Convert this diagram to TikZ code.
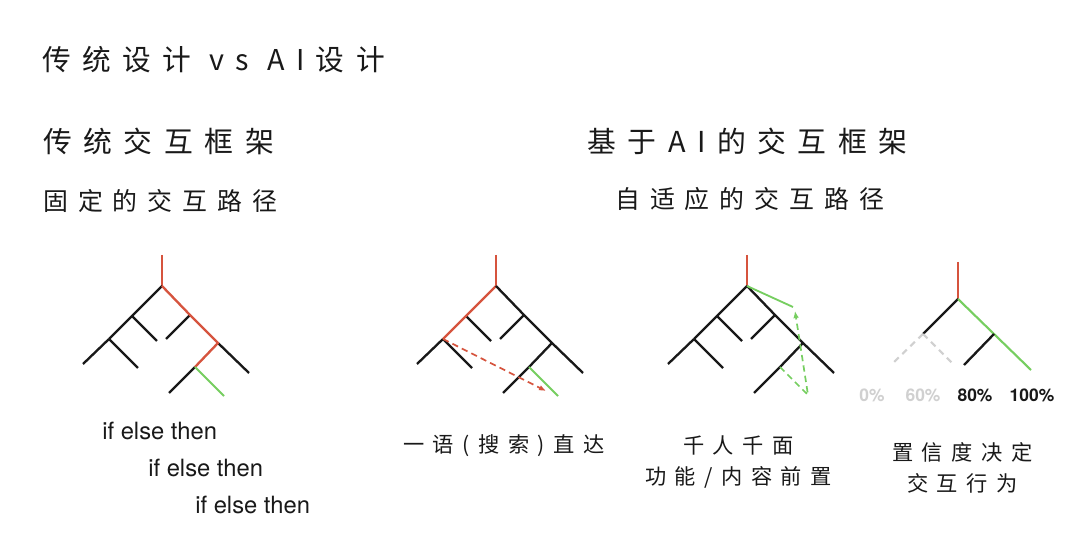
\documentclass[tikz,border=0pt]{standalone}
\usepackage{fontspec}
\newfontfamily\cjk{Noto Sans CJK SC}[LetterSpace=40]
\newfontfamily\lat{TeX Gyre Heros}
\usetikzlibrary{arrows.meta}
\definecolor{pathred}{RGB}{214,84,62}
\definecolor{pathgreen}{RGB}{118,206,96}
\definecolor{fadegray}{RGB}{208,208,208}
\definecolor{inkblack}{RGB}{25,25,25}

\begin{document}
\begin{tikzpicture}[
        x=0.025cm, y=-0.025cm,
        >={Latex[length=5pt,width=4pt]},
        % 树枝样式
        branch/.style={line width=1.65pt, inkblack, line join=round},
        redpath/.style={branch, pathred},
        greenpath/.style={branch, pathgreen, line width=1.5pt},
        jumppath/.style={line width=1.2pt, dash pattern=on 4.5pt off 3pt},
        fadepath/.style={line width=1.5pt, fadegray, dash pattern=on 4.5pt off 3.5pt},
        % 文字样式
        title/.style={anchor=west, inner sep=0pt, inkblack, font=\cjk\fontsize{20.4}{24}\selectfont},
        heading/.style={title, font=\cjk\fontsize{20.5}{24}\selectfont},
        subheading/.style={title, font=\cjk\fontsize{17.7}{21}\selectfont},
        caption/.style={title, font=\cjk\fontsize{15.1}{18}\selectfont},
        code/.style={anchor=west, inner sep=0pt, inkblack, font=\lat\fontsize{16.9}{20}\selectfont},
        pct/.style={inner sep=0pt, font=\lat\bfseries\fontsize{12.4}{15}\selectfont}
    ]

        \fill[white] (0,0) rectangle (1080,543);
        \useasboundingbox (0,0) rectangle (1080,543);

        % ====================
        % 标题 (Titles)
        % ====================
        \node[title] (maintitle) at (42,60) {传统设计 vs AI设计};
        \node[heading] (oldhead) at (43,141) {传统交互框架};
        \node[subheading] (oldsub) at (43,201) {固定的交互路径};
        \node[heading] (aihead) at (587,141) {基于AI的交互框架};
        \node[subheading] (aisub) at (615,199) {自适应的交互路径};

        % ====================
        % 三棵同形的树 (Trees a, b, c)
        % ====================
        \foreach \tr/\dx in {a/0, b/334, c/585}{
            \begin{scope}[shift={(\dx,0)}]
                \coordinate (\tr S) at (162,255);
                \coordinate (\tr R) at (162,286);
                \coordinate (\tr L1) at (132,316);
                \coordinate (\tr L2) at (109,339);
                \coordinate (\tr Le) at (83,364);
                \coordinate (\tr L1e) at (157,341);
                \coordinate (\tr L2e) at (138,368);
                \coordinate (\tr R1) at (190,315);
                \coordinate (\tr R1e) at (166,339);
                \coordinate (\tr R2) at (218,343);
                \coordinate (\tr Re) at (249,373);
                \coordinate (\tr R3) at (195,367);
                \coordinate (\tr R3l) at (169,393);
                \coordinate (\tr R3r) at (224,396);
            \end{scope}
            \draw[branch] (\tr L1) -- (\tr L1e);
            \draw[branch] (\tr L2) -- (\tr L2e);
            \draw[branch] (\tr L2) -- (\tr Le);
            \draw[branch] (\tr R1) -- (\tr R1e);
            \draw[branch] (\tr R2) -- (\tr Re);
            \draw[branch] (\tr R3) -- (\tr R3l);
            \draw[redpath] (\tr S) -- (\tr R);
        }

        % 树 a: 固定路径
        \draw[branch] (aR) -- (aL1) -- (aL2);
        \draw[redpath] (aR) -- (aR1) -- (aR2) -- (aR3);
        \draw[greenpath] (aR3) -- (aR3r);

        % 树 b: 一语直达
        \draw[redpath] (bR) -- (bL1) -- (bL2);
        \draw[branch] (bR) -- (bR1) -- (bR2) -- (bR3);
        \draw[greenpath] (bR3) -- (bR3r);
        \coordinate (bhit) at (546,391);
        \draw[jumppath, pathred, ->] (bL2) -- (bhit);

        % 树 c: 内容前置
        \draw[branch] (cR) -- (cL1) -- (cL2);
        \draw[branch] (cR) -- (cR1) -- (cR2) -- (cR3);
        \coordinate (cbend) at (793,307);
        \coordinate (cfar) at (808,395);
        \coordinate (ctip) at (795,311);
        \draw[greenpath, line width=1.3pt] (cR) -- (cbend);
        \draw[jumppath, pathgreen, ->] (cR3) -- (cfar) -- (ctip);

        % ====================
        % 树 d: 置信度 (Tree d)
        % ====================
        \coordinate (dS) at (958,262);
        \coordinate (dR) at (958,299);
        \coordinate (dL) at (923,334);
        \coordinate (dLe) at (893,363);
        \coordinate (dLr) at (953,364);
        \coordinate (dM) at (994,334);
        \coordinate (dMl) at (964,365);
        \coordinate (dRe) at (1031,370);
        \draw[redpath] (dS) -- (dR);
        \draw[branch] (dR) -- (dL);
        \draw[fadepath] (dL) -- (dLe);
        \draw[fadepath] (dL) -- (dLr);
        \draw[greenpath] (dR) -- (dRe);
        \draw[branch] (dM) -- (dMl);

        \node[pct, fadegray] (p0) at (872,395) {0\%};
        \node[pct, fadegray] (p60) at (923,395) {60\%};
        \node[pct, inkblack] (p80) at (975,395) {80\%};
        \node[pct, inkblack] (p100) at (1032,395) {100\%};

        % ====================
        % 说明文字 (Captions)
        % ====================
        \node[code] (if1) at (102,431) {if else then};
        \node[code] (if2) at (148,468) {if else then};
        \node[code] (if3) at (195,505) {if else then};

        \node[caption] (cap1) at (403,446) {一语(搜索)直达};
        \node[caption] (cap2a) at (683,445) {千人千面};
        \node[caption] (cap2b) at (645,477) {功能/内容前置};
        \node[caption] (cap3a) at (892,452) {置信度决定};
        \node[caption] (cap3b) at (907,483) {交互行为};

    \end{tikzpicture}
\end{document}
